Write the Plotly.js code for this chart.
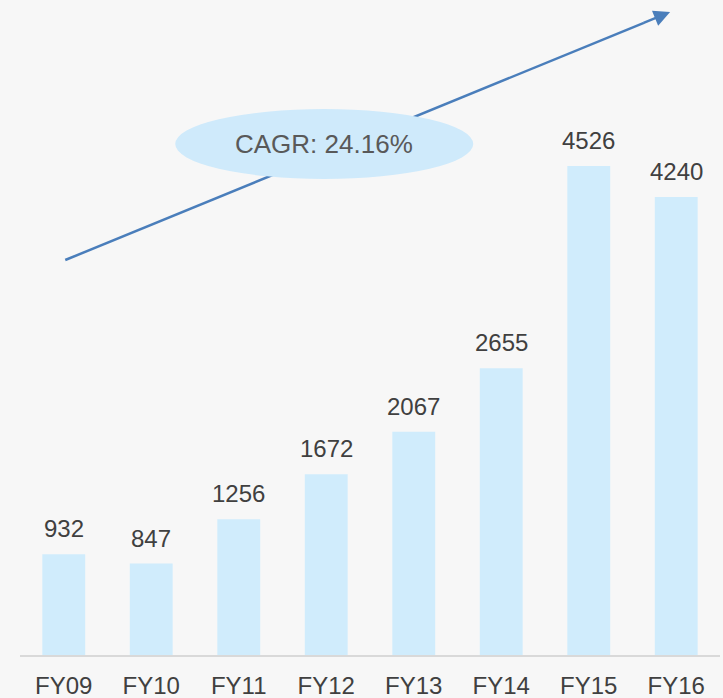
<!DOCTYPE html>
<html>
<head>
<meta charset="utf-8">
<script src="https://cdn.plot.ly/plotly-3.0.1.min.js"></script>
<style>
  html, body { margin: 0; padding: 0; background: #f7f7f7; }
  #chart { width: 723px; height: 698px; }
</style>
</head>
<body>
<div id="chart"></div>
<script>
// ─────────────────────────────
// DATOS
// ─────────────────────────────
const years = ['FY09', 'FY10', 'FY11', 'FY12', 'FY13', 'FY14', 'FY15', 'FY16'];
const values = [932, 847, 1256, 1672, 2067, 2655, 4526, 4240];
const cagrLabel = 'CAGR: 24.16%';

// ─────────────────────────────
// ESTILO
// ─────────────────────────────
const FONT = 'Liberation Sans, Arial, sans-serif';
const BAR_COLOR = '#d0ecfc';
const ARROW_COLOR = '#4a7ebb';
const TEXT_COLOR = '#404040';

const bars = {
  type: 'bar',
  x: years,
  y: values,
  marker: { color: BAR_COLOR },
  hoverinfo: 'skip'
};

// Etiquetas de valor encima de cada barra
const valueLabels = years.map((y, i) => ({
  x: y,
  y: values[i],
  text: String(values[i]),
  showarrow: false,
  yanchor: 'bottom',
  yshift: 10,
  font: { family: FONT, size: 24, color: TEXT_COLOR }
}));

// Flecha de tendencia (línea + punta) y elipse CAGR
const arrowStart = { x: 0.017, y: 3656 };
const arrowEnd = { x: 6.93, y: 5951 };

const layout = {
  width: 723,
  height: 698,
  margin: { l: 20, r: 3, t: 0, b: 43 },
  paper_bgcolor: '#f7f7f7',
  plot_bgcolor: '#f7f7f7',
  showlegend: false,
  bargap: 0.51,
  font: { family: FONT, color: TEXT_COLOR },
  xaxis: {
    type: 'category',
    range: [-0.5, 7.5],
    showline: true,
    linecolor: '#d9d9d9',
    linewidth: 2,
    ticks: '',
    showgrid: false,
    zeroline: false,
    tickfont: { family: FONT, size: 24, color: TEXT_COLOR },
    ticklabelstandoff: 8
  },
  yaxis: {
    range: [0, 6063],
    showgrid: false,
    zeroline: false,
    showticklabels: false,
    showline: false
  },
  shapes: [
    {
      type: 'line',
      xref: 'x', yref: 'y',
      x0: arrowStart.x, y0: arrowStart.y,
      x1: arrowEnd.x - 0.3, y1: arrowEnd.y - 99,
      line: { color: ARROW_COLOR, width: 2.5 },
      layer: 'above'
    },
    {
      type: 'circle',
      xref: 'x', yref: 'y',
      x0: 1.274, x1: 4.68,
      y0: 4406, y1: 5054,
      fillcolor: '#cfeafb',
      line: { width: 0 },
      layer: 'above'
    }
  ],
  annotations: [
    ...valueLabels,
    {
      x: 2.977, y: 4730,
      text: cagrLabel,
      showarrow: false,
      font: { family: FONT, size: 26, color: '#595959' }
    },
    {
      x: arrowEnd.x, y: arrowEnd.y,
      xref: 'x', yref: 'y',
      text: '',
      showarrow: true,
      arrowhead: 2,
      arrowsize: 1.3,
      arrowwidth: 2.5,
      arrowcolor: ARROW_COLOR,
      ax: -28, ay: 11.4
    }
  ]
};

Plotly.newPlot('chart', [bars], layout, { displayModeBar: false, staticPlot: true });
</script>
</body>
</html>
